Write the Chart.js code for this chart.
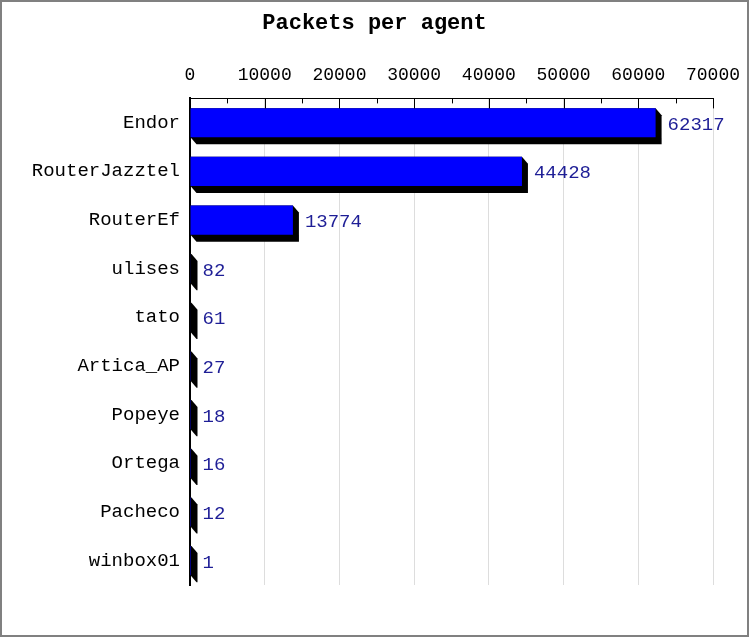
<!DOCTYPE html>
<html>
<head>
<meta charset="utf-8">
<script src="https://cdn.jsdelivr.net/npm/chart.js@4"></script>
<style>
  html, body { margin: 0; padding: 0; background: #fff; }
  #wrap { width: 745px; height: 633px; border: 2px solid #808080; }
</style>
</head>
<body>
<div id="wrap"><canvas id="agentChart" width="745" height="633"></canvas></div>
<script>
// Data
const agents = ['Endor', 'RouterJazztel', 'RouterEf', 'ulises', 'tato', 'Artica_AP', 'Popeye', 'Ortega', 'Pacheco', 'winbox01'];
const packets = [62317, 44428, 13774, 82, 61, 27, 18, 16, 12, 1];
const xTicks = [0, 10000, 20000, 30000, 40000, 50000, 60000, 70000];

const monoFont = '"Liberation Mono", "DejaVu Sans Mono", monospace';
const DX = 6, DY = 7; // 3d extrusion of the bars

// black extruded "shadow" behind each bar, then the value labels
const extrudePlugin = {
    id: 'extrude',
    beforeDatasetsDraw(chart) {
        const ctx = chart.ctx;
        const meta = chart.getDatasetMeta(0);
        ctx.save();
        ctx.fillStyle = '#000';
        meta.data.forEach(bar => {
            const L = bar.base, R = Math.max(bar.x, bar.base + 1);
            const T = bar.y - bar.height / 2, B = bar.y + bar.height / 2;
            ctx.beginPath();
            ctx.moveTo(L, T);
            ctx.lineTo(R, T);
            ctx.lineTo(R + DX, T + DY);
            ctx.lineTo(R + DX, B + DY);
            ctx.lineTo(L + DX, B + DY);
            ctx.lineTo(L, B);
            ctx.closePath();
            ctx.fill();
        });
        ctx.restore();
    },
    afterDatasetsDraw(chart) {
        const ctx = chart.ctx;
        const meta = chart.getDatasetMeta(0);
        ctx.save();
        ctx.font = '19px ' + monoFont;
        ctx.fillStyle = '#1e1e96';
        ctx.textAlign = 'left';
        ctx.textBaseline = 'middle';
        meta.data.forEach((bar, i) => {
            ctx.fillText(String(packets[i]), Math.max(bar.x, bar.base) + DX + 6, bar.y + 2);
        });
        ctx.restore();
    }
};

// tick marks pointing into the plot from the top axis (major + minor)
const innerTicksPlugin = {
    id: 'innerTicks',
    afterDraw(chart) {
        const ctx = chart.ctx;
        const xs = chart.scales.x;
        const top = chart.chartArea.top;
        ctx.save();
        ctx.strokeStyle = '#000';
        ctx.lineWidth = 1;
        for (let v = 0; v <= 70000; v += 5000) {
            const px = Math.round(xs.getPixelForValue(v)) + 0.5;
            const len = v % 10000 === 0 ? 10 : 5;
            ctx.beginPath();
            ctx.moveTo(px, top);
            ctx.lineTo(px, top + len);
            ctx.stroke();
        }
        ctx.restore();
    }
};

const chartCtx = document.getElementById('agentChart').getContext('2d');
const agentChart = new Chart(chartCtx, {
    type: 'bar',
    data: {
        labels: agents,
        datasets: [{
            label: 'Packets',
            data: packets,
            backgroundColor: '#0000ff',
            borderWidth: 0,
            barPercentage: 0.6,
            categoryPercentage: 1.0
        }]
    },
    options: {
        indexAxis: 'y',
        responsive: false,
        animation: false,
        layout: { padding: { left: 0, right: 0, top: 0, bottom: 50 } },
        plugins: {
            legend: { display: false },
            tooltip: { enabled: false },
            title: {
                display: true,
                text: 'Packets per agent',
                color: '#000',
                font: { family: monoFont, size: 22, weight: 'bold' },
                padding: { top: 8, bottom: 9 }
            }
        },
        scales: {
            x: {
                position: 'top',
                min: 0,
                max: 70000,
                afterBuildTicks(scale) {
                    scale.ticks = xTicks.map(v => ({ value: v }));
                },
                afterFit(scale) {
                    scale.height = 53;
                    scale.paddingLeft = 0;
                    scale.paddingRight = 34;
                },
                ticks: {
                    color: '#000',
                    font: { family: monoFont, size: 18 },
                    padding: 12,
                    maxRotation: 0,
                    autoSkip: false,
                    callback: v => String(v)
                },
                grid: { color: '#dddddd', drawTicks: false },
                border: { display: true, color: '#000', width: 1 }
            },
            y: {
                afterFit(scale) { scale.width = 188; },
                ticks: {
                    color: '#000',
                    font: { family: monoFont, size: 19 },
                    padding: 10
                },
                grid: { display: false, drawTicks: false },
                border: { display: true, color: '#000', width: 2 }
            }
        }
    },
    plugins: [extrudePlugin, innerTicksPlugin]
});
</script>
</body>
</html>
